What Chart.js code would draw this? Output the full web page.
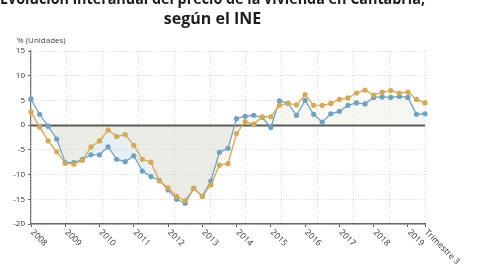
<!DOCTYPE html>
<html>
<head>
<meta charset="utf-8">
<script src="https://cdn.jsdelivr.net/npm/chart.js@4.4.0/dist/chart.umd.min.js"></script>
<style>
  html, body { margin: 0; padding: 0; background: #fff; overflow: hidden; }
  #wrap { position: absolute; left: 0; top: -11px; width: 480px; height: 281px; }
</style>
</head>
<body>
<div id="wrap"><canvas id="chart" width="480" height="281"></canvas></div>
<script>
// datos
const titleLines = ['Evolución interanual del precio de la vivienda en Cantabria,', 'según el INE'];
const unitLabel = '% (Unidades)';
const years = ['2008', '2009', '2010', '2011', '2012', '2013', '2014', '2015', '2016', '2017', '2018', '2019'];
const lastLabel = 'Trimestre 3';
const quarters = years.flatMap((y) => ['T1', 'T2', 'T3', 'T4'].map((q) => `${y} ${q}`)).slice(0, 47);

const serieAzul = [
  5.3, 2.2, -0.2, -2.8, -7.6, -7.6, -6.9, -6.0, -6.0, -4.4, -6.9, -7.4,
  -6.2, -9.3, -10.4, -11.2, -13.1, -15.0, -15.8, -12.8, -14.4, -11.3, -5.5, -4.7,
  1.3, 1.8, 2.0, 1.6, -0.5, 4.9, 4.4, 2.0, 5.0, 2.2, 0.6, 2.3,
  2.8, 4.0, 4.5, 4.3, 5.6, 5.7, 5.6, 5.8, 5.6, 2.2, 2.3,
];
const serieOcre = [
  2.7, -0.4, -3.2, -5.4, -7.7, -7.9, -7.1, -4.4, -3.2, -1.0, -2.3, -1.9,
  -4.1, -6.9, -7.5, -11.3, -12.7, -14.4, -15.3, -12.8, -14.4, -12.1, -8.1, -7.8,
  -1.7, 0.7, 0.2, 1.7, 1.7, 4.0, 4.4, 4.1, 6.2, 4.0, 4.0, 4.4,
  5.2, 5.5, 6.5, 7.1, 6.1, 6.7, 7.0, 6.5, 6.7, 5.2, 4.5,
];

const azul = '#6ea2c3';
const ocre = '#d6a852';

// linea del cero y rotulo de unidades
const extras = {
  id: 'extras',
  beforeDatasetsDraw(chart) {
    const { ctx, chartArea, scales: { y } } = chart;
    const y0 = Math.round(y.getPixelForValue(0)) + 0.5;
    ctx.save();
    ctx.strokeStyle = '#5a5a5a';
    ctx.lineWidth = 1.8;
    ctx.beginPath();
    ctx.moveTo(chartArea.left, y0);
    ctx.lineTo(chartArea.right, y0);
    ctx.stroke();
    ctx.restore();
  },
  afterDraw(chart) {
    const { ctx, chartArea, scales: { x } } = chart;
    ctx.save();
    ctx.fillStyle = '#444';
    ctx.font = '8px "Open Sans"';
    ctx.textBaseline = 'middle';
    ctx.textAlign = 'left';
    ctx.fillText(unitLabel, chartArea.left - 14, chartArea.top - 10);

    // etiquetas del eje x giradas hacia abajo
    ctx.fillStyle = '#333';
    ctx.font = '8.5px "Open Sans"';
    quarters.forEach((q, i) => {
      let text = null;
      if (i === quarters.length - 1) text = lastLabel;
      else if (i % 4 === 0) text = years[i / 4];
      if (!text) return;
      ctx.save();
      ctx.translate(x.getPixelForValue(i) + 1, x.top + 7);
      ctx.rotate(Math.PI / 4);
      ctx.fillText(text, 0, 0);
      ctx.restore();
    });
    ctx.restore();
  },
};

const chart = new Chart(document.getElementById('chart'), {
  type: 'line',
  data: {
    labels: quarters,
    datasets: [
      {
        label: 'Cantabria',
        data: serieOcre,
        borderColor: ocre,
        backgroundColor: ocre,
        pointBackgroundColor: ocre,
        borderWidth: 1.3,
        pointRadius: 2.6,
        pointBorderWidth: 0,
        tension: 0,
        fill: { target: 'origin', above: 'rgba(235,235,215,0.2)', below: 'rgba(247,224,195,0.3)' },
      },
      {
        label: 'España',
        data: serieAzul,
        borderColor: azul,
        backgroundColor: azul,
        pointBackgroundColor: azul,
        borderWidth: 1.3,
        pointRadius: 2.6,
        pointBorderWidth: 0,
        tension: 0,
        fill: { target: 'origin', above: 'rgba(215,222,212,0.16)', below: 'rgba(130,185,205,0.2)' },
      },
    ],
  },
  options: {
    responsive: false,
    animation: false,
    devicePixelRatio: 1,
    layout: { padding: { left: 0, right: 55, top: 0, bottom: 0 } },
    plugins: {
      legend: { display: false },
      tooltip: { enabled: false },
      filler: { drawTime: 'beforeDatasetsDraw' },
      title: {
        display: true,
        text: titleLines,
        color: '#1e1e1e',
        font: { family: '"Open Sans"', size: 16, weight: 'bold', lineHeight: 1.25 },
        padding: { top: 0, bottom: 22 },
      },
    },
    scales: {
      x: {
        type: 'category',
        offset: false,
        ticks: { display: false, autoSkip: false },
        grid: {
          drawOnChartArea: false,
          drawTicks: true,
          tickLength: 3,
          tickColor: (ctx) => (ctx.index % 4 === 0 || ctx.index === quarters.length - 1 ? '#555' : 'rgba(0,0,0,0)'),
        },
        border: { display: true, color: '#666', width: 1.5 },
        afterFit: (scale) => { scale.height = 46; },
      },
      x2: {
        type: 'linear',
        position: 'top',
        min: 0,
        max: 11,
        ticks: { display: false, stepSize: 1 },
        grid: { color: '#d6d6d6', lineWidth: 1, drawTicks: false },
        border: { display: false, dash: [1, 2] },
      },
      y: {
        min: -20,
        max: 15,
        ticks: {
          stepSize: 5,
          padding: 3,
          color: '#333',
          font: { family: '"Open Sans"', size: 8 },
        },
        grid: {
          color: (ctx) => (ctx.tick && ctx.tick.value === 0 ? 'rgba(0,0,0,0)' : '#d3d3d3'),
          drawTicks: true,
          tickLength: 3,
          tickColor: '#666',
        },
        border: { display: true, color: '#777', width: 1.2, dash: [1, 2] },
        afterFit: (scale) => { scale.width = 31; },
      },
    },
  },
  plugins: [extras],
});
</script>
</body>
</html>
